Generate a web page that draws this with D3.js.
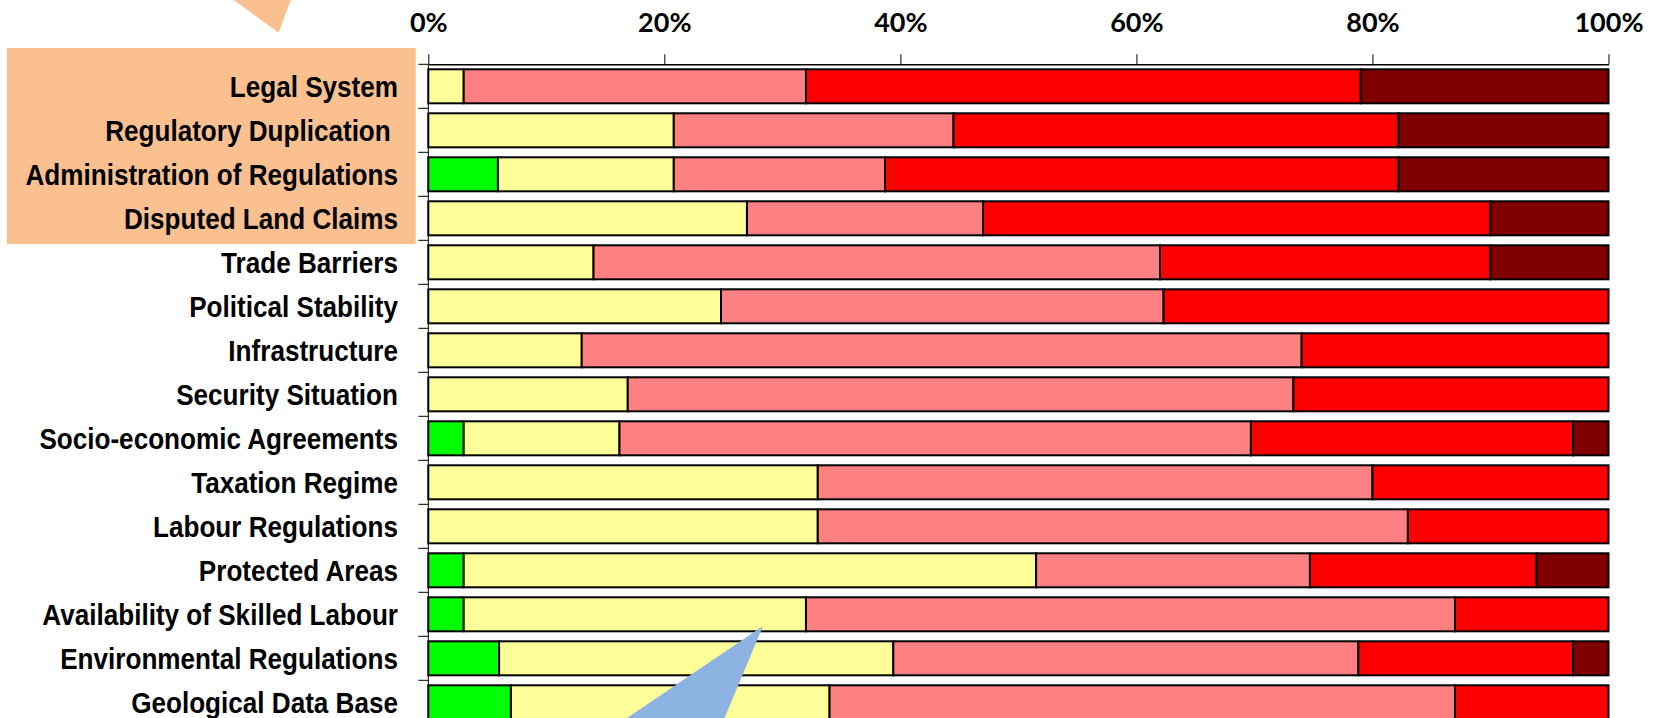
<!DOCTYPE html>
<html>
<head>
<meta charset="utf-8">
<script src="https://cdn.jsdelivr.net/npm/d3@7/dist/d3.min.js"></script>
<style>
  html, body { margin: 0; padding: 0; background: #fff; }
  svg { display: block; }
</style>
</head>
<body>
<svg id="chart" width="1659" height="718"></svg>
<script>
// Survey categories, top to bottom
const categories = [
  "Legal System",
  "Regulatory Duplication ",
  "Administration of Regulations",
  "Disputed Land Claims",
  "Trade Barriers",
  "Political Stability",
  "Infrastructure",
  "Security Situation",
  "Socio-economic Agreements",
  "Taxation Regime",
  "Labour Regulations",
  "Protected Areas",
  "Availability of Skilled Labour",
  "Environmental Regulations",
  "Geological Data Base"
];

// Share of responses (%) per rating, one value per category
const seriesKeys = ["s1", "s2", "s3", "s4", "s5"];
const s1 = [0, 0, 5.9, 0, 0, 0, 0, 0, 3, 0, 0, 3, 3, 6, 7];
const s2 = [3, 20.8, 14.9, 27, 14, 24.8, 13, 16.9, 13.2, 33, 33, 48.5, 29, 33.4, 27];
const s3 = [29, 23.7, 17.9, 20, 48, 37.5, 61, 56.4, 53.5, 47, 50, 23.2, 55, 39.4, 53];
const s4 = [47, 37.7, 43.5, 43, 28, 37.7, 26, 26.7, 27.3, 20, 17, 19.2, 13, 18.2, 13];
const s5 = [21, 17.8, 17.8, 10, 10, 0, 0, 0, 3, 0, 0, 6.1, 0, 3, 0];
const seriesColors = ["#00FF00", "#FFFF99", "#FF8080", "#FF0000", "#800000"];

const tickValues = [0, 20, 40, 60, 80, 100];

const rows = categories.map((c, i) => ({
  category: c, s1: s1[i], s2: s2[i], s3: s3[i], s4: s4[i], s5: s5[i]
}));

const svg = d3.select("#chart");

const x = d3.scaleLinear().domain([0, 100]).range([428.3, 1608.5]);
const y = d3.scaleBand()
  .domain(categories)
  .range([64.3, 64.3 + 44 * categories.length])
  .paddingInner(0.227)
  .paddingOuter(0.1135);

// Highlight panel behind the first four labels
svg.append("rect")
  .attr("x", 7).attr("y", 48)
  .attr("width", 408.7).attr("height", 196)
  .attr("fill", "#FAC090");

// Callout pointer reaching down from above
svg.append("polygon")
  .attr("points", "226.8,-5 292.5,-5 278.6,32.7")
  .attr("fill", "#FAC090");

// Category labels (condensed bold)
svg.append("g")
  .selectAll("text")
  .data(categories)
  .join("text")
  .attr("transform", d => `translate(398,${y(d) + y.bandwidth() / 2 + 10.6}) scale(0.9,1)`)
  .attr("text-anchor", "end")
  .style("white-space", "pre")
  .attr("font-family", "'Liberation Sans', Arial, sans-serif")
  .attr("font-weight", "bold")
  .attr("font-size", "29px")
  .attr("fill", "#000")
  .text(d => d);

// Stacked bars
const stacked = d3.stack().keys(seriesKeys)(rows);

svg.append("g")
  .selectAll("g")
  .data(stacked)
  .join("g")
  .attr("fill", (d, i) => seriesColors[i])
  .selectAll("rect")
  .data(d => d.filter(p => p[1] - p[0] > 0))
  .join("rect")
  .attr("x", d => x(d[0]))
  .attr("y", d => y(d.data.category))
  .attr("width", d => x(d[1]) - x(d[0]))
  .attr("height", y.bandwidth())
  .attr("stroke", "#000")
  .attr("stroke-width", 2);

// Top percentage axis
const xAxis = d3.axisTop(x)
  .tickValues(tickValues)
  .tickFormat(d => d + "%")
  .tickSize(10)
  .tickSizeOuter(0)
  .tickPadding(22);

const gx = svg.append("g")
  .attr("transform", `translate(0,${y.range()[0]})`)
  .call(xAxis);
gx.select(".domain").attr("stroke", "#000").attr("stroke-width", 1.5);
gx.selectAll(".tick line").attr("stroke", "#000").attr("stroke-width", 1);
gx.selectAll(".tick text")
  .attr("font-family", "Lato, 'Open Sans', sans-serif")
  .attr("font-weight", "bold")
  .attr("font-size", "27px")
  .attr("fill", "#000");

// Left category axis: line with ticks on band boundaries
const gap = (y.step() - y.bandwidth()) / 2;
const boundaries = categories.map(c => y(c) - gap).concat([y.range()[1]]);
const gy = svg.append("g");
gy.append("line")
  .attr("x1", x(0)).attr("x2", x(0))
  .attr("y1", y.range()[0]).attr("y2", y.range()[1])
  .attr("stroke", "#000").attr("stroke-width", 1);
gy.selectAll("line.tick")
  .data(boundaries)
  .join("line")
  .attr("class", "tick")
  .attr("x1", x(0) - 10).attr("x2", x(0))
  .attr("y1", d => d).attr("y2", d => d)
  .attr("stroke", "#000").attr("stroke-width", 1);

// Callout pointer rising from below
svg.append("polygon")
  .attr("points", "763,626 565,760 707,760")
  .attr("fill", "#8DB3E2");
</script>
</body>
</html>
